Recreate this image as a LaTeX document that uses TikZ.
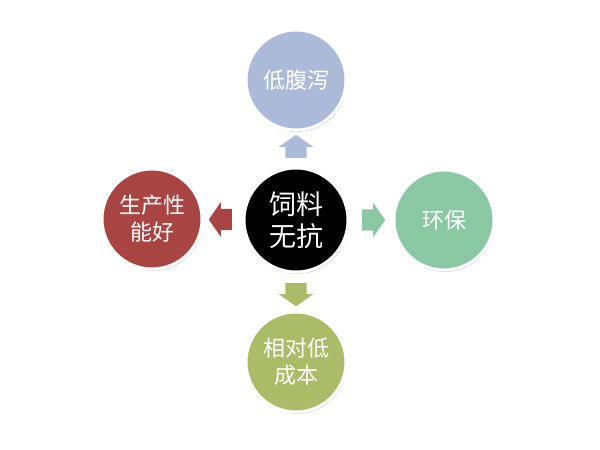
\documentclass[tikz,border=0pt]{standalone}
\usepackage{fontspec}
\newfontfamily\cjk{Noto Sans CJK SC}
\definecolor{paleblue}{RGB}{170,186,216}
\definecolor{mintgreen}{RGB}{138,200,164}
\definecolor{brickred}{RGB}{168,68,66}
\definecolor{olivegreen}{RGB}{170,188,104}
\usetikzlibrary{shapes.arrows, shadows, calc}

\begin{document}
\begin{tikzpicture}[x=1pt, y=-1pt,
  bubble/.style={circle, draw=white, line width=3pt, minimum size=100pt, inner sep=0pt, align=center, text=white,
    font=\cjk\fontsize{22}{27}\selectfont, drop shadow={opacity=0.3, shadow xshift=1pt, shadow yshift=-2pt}},
  blockarr/.style={single arrow, draw=none, minimum height=23pt, inner xsep=0pt, inner ysep=10.5pt,
    single arrow head extend=6.5pt, single arrow tip angle=110}
]
  \useasboundingbox[fill=white] (0,0) rectangle (600,450);

  % hub and the four results
  \node[bubble, fill=black, minimum size=104pt, font=\cjk\fontsize{27}{32}\selectfont] (hub) at (296,220) {饲料\\无抗};
  \node[bubble, fill=paleblue] (diarrhea) at (296,80) {低腹泻};
  \node[bubble, fill=mintgreen] (green) at (444,220) {环保};
  \node[bubble, fill=brickred] (growth) at (152,219) {生产性\\能好};
  \node[bubble, fill=olivegreen] (cost) at (296,362) {相对低\\成本};

  % block arrows
  \node[blockarr, fill=paleblue, rotate=90] (upA) at ($(hub)!0.5!(diarrhea)$) {};
  \node[blockarr, fill=mintgreen] (rightA) at ($(hub)!0.5!(green)$) {};
  \node[blockarr, fill=brickred, rotate=180] (leftA) at ($(hub)!0.5!(growth)$) {};
  \node[blockarr, fill=olivegreen, rotate=270] (downA) at ($(hub)!0.5!(cost)$) {};
\end{tikzpicture}
\end{document}
